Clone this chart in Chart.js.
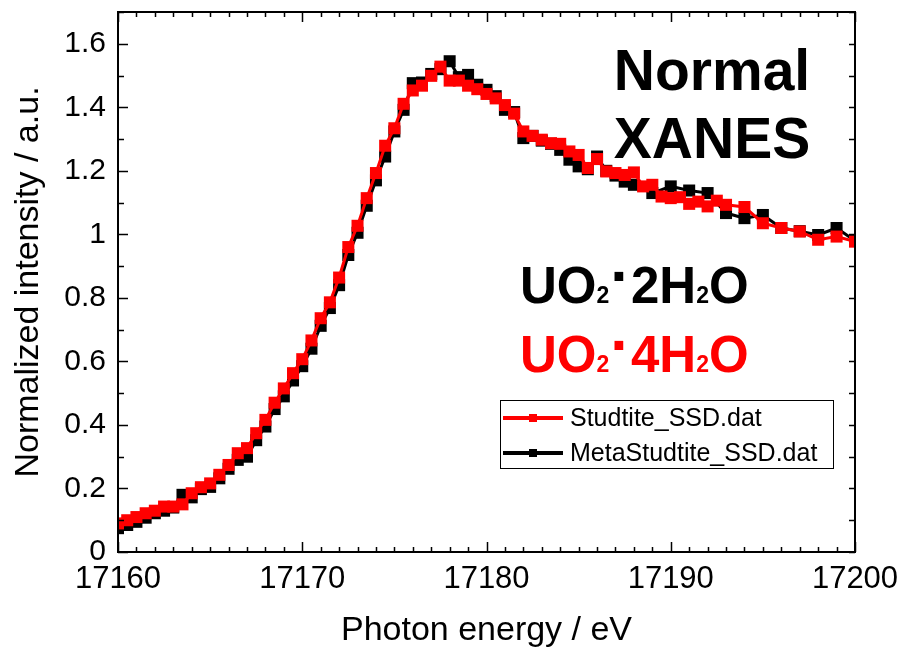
<!DOCTYPE html>
<html>
<head>
<meta charset="utf-8">
<script src="https://cdn.jsdelivr.net/npm/chart.js@4.4.0/dist/chart.umd.min.js"></script>
<style>
  body { margin: 0; background: #fff; }
  canvas { display: block; }
</style>
</head>
<body>
<canvas id="xanes" width="903" height="650"></canvas>
<script>
// Studtite (UO2·4H2O), red curve
const energyStud = [17160, 17160.5, 17161, 17161.5, 17162, 17162.5, 17163, 17163.5, 17164, 17164.5,
    17165, 17165.5, 17166, 17166.5, 17167, 17167.5, 17168, 17168.5, 17169, 17169.5,
    17170, 17170.5, 17171, 17171.5, 17172, 17172.5, 17173, 17173.5, 17174, 17174.5,
    17175, 17175.5, 17176, 17176.5, 17177, 17177.5, 17178, 17178.5, 17179, 17179.5,
    17180, 17180.5, 17181, 17181.5, 17182, 17182.5, 17183, 17183.5, 17184, 17184.5,
    17185, 17185.5, 17186, 17186.5, 17187, 17187.5, 17188, 17188.5, 17189, 17189.5,
    17190, 17190.5, 17191, 17191.5, 17192, 17192.5, 17193,
    17194, 17195, 17196, 17197, 17198, 17199, 17200];
const studtite = [0.090, 0.100, 0.110, 0.122, 0.130, 0.143, 0.143, 0.150, 0.185, 0.204,
    0.216, 0.243, 0.274, 0.311, 0.327, 0.374, 0.416, 0.470, 0.515, 0.563,
    0.607, 0.666, 0.736, 0.786, 0.864, 0.960, 1.027, 1.114, 1.193, 1.279,
    1.334, 1.411, 1.453, 1.468, 1.499, 1.528, 1.484, 1.484, 1.468, 1.457,
    1.442, 1.428, 1.407, 1.380, 1.324, 1.310, 1.298, 1.287, 1.285, 1.261,
    1.250, 1.209, 1.237, 1.198, 1.193, 1.187, 1.195, 1.151, 1.156, 1.119,
    1.114, 1.117, 1.096, 1.103, 1.088, 1.106, 1.093,
    1.086, 1.035, 1.020, 1.009, 0.983, 0.993, 0.977];

// MetaStudtite (UO2·2H2O), black curve
const energyMeta = [17160, 17160.5, 17161, 17161.5, 17162, 17162.5, 17163, 17163.5, 17164, 17164.5,
    17165, 17165.5, 17166, 17166.5, 17167, 17167.5, 17168, 17168.5, 17169, 17169.5,
    17170, 17170.5, 17171, 17171.5, 17172, 17172.5, 17173, 17173.5, 17174, 17174.5,
    17175, 17175.5, 17176, 17176.5, 17177, 17177.5, 17178, 17178.5, 17179, 17179.5,
    17180, 17180.5, 17181, 17181.5, 17182, 17182.5, 17183, 17183.5, 17184, 17184.5,
    17185, 17185.5, 17186, 17186.5, 17187, 17187.5, 17188,
    17189, 17190, 17191, 17192, 17193, 17194, 17195, 17196, 17197, 17198, 17199, 17200];
const metaStudtite = [0.075, 0.085, 0.095, 0.108, 0.122, 0.130, 0.140, 0.180, 0.172, 0.198,
    0.205, 0.232, 0.262, 0.290, 0.300, 0.352, 0.395, 0.450, 0.490, 0.540,
    0.585, 0.640, 0.712, 0.768, 0.840, 0.935, 1.005, 1.090, 1.170, 1.245,
    1.324, 1.392, 1.476, 1.478, 1.505, 1.520, 1.545, 1.495, 1.502, 1.471,
    1.455, 1.435, 1.392, 1.385, 1.303, 1.310, 1.295, 1.285, 1.266, 1.235,
    1.214, 1.205, 1.245, 1.200, 1.185, 1.166, 1.156,
    1.130, 1.151, 1.138, 1.130, 1.067, 1.051, 1.061, 1.020, 1.010, 0.998, 1.020, 0.980];

const xRange = [17160, 17200];
const yRange = [0, 1.7];
const seriesNames = ['Studtite_SSD.dat', 'MetaStudtite_SSD.dat'];

const FONT = "'Liberation Sans', Arial, sans-serif";

function pairs(xs, ys) {
    return xs.map((e, i) => ({ x: e, y: ys[i] }));
}

// frame + inward ticks on all four sides (Origin style)
const frameTicks = {
    id: 'frameTicks',
    afterDatasetsDraw(chart) {
        const { ctx, chartArea: a, scales: { x, y } } = chart;
        ctx.save();
        ctx.strokeStyle = '#000';
        ctx.lineWidth = 1.5;
        ctx.beginPath();
        for (let e = xRange[0]; e <= xRange[1]; e++) {
            const px = Math.round(x.getPixelForValue(e)) + 0.5;
            const len = e % 10 === 0 ? 10 : 5;
            ctx.moveTo(px, a.bottom); ctx.lineTo(px, a.bottom - len);
            ctx.moveTo(px, a.top); ctx.lineTo(px, a.top + len);
        }
        for (let k = 0; k <= 17; k++) {
            const py = Math.round(y.getPixelForValue(k / 10)) + 0.5;
            const len = k % 2 === 0 ? 10 : 6;
            ctx.moveTo(a.left, py); ctx.lineTo(a.left + len, py);
            ctx.moveTo(a.right, py); ctx.lineTo(a.right - 6, py);
        }
        ctx.stroke();
        ctx.lineWidth = 2;
        ctx.strokeRect(a.left, a.top, a.right - a.left, a.bottom - a.top);
        ctx.restore();
    }
};

// formula with subscripts, drawn piece by piece
function drawFormula(ctx, x, y, parts, color) {
    ctx.fillStyle = color;
    ctx.textBaseline = 'alphabetic';
    ctx.textAlign = 'left';
    parts.forEach(p => {
        ctx.font = 'bold ' + p.size + 'px ' + FONT;
        ctx.fillText(p.t, x, y + (p.dy || 0));
        x += ctx.measureText(p.t).width + (p.gap || 0);
    });
}

const annotations = {
    id: 'annotations',
    afterDraw(chart) {
        const ctx = chart.ctx;
        ctx.save();
        ctx.fillStyle = '#000';
        ctx.font = 'bold 57px ' + FONT;
        ctx.textAlign = 'center';
        ctx.textBaseline = 'alphabetic';
        ctx.fillText('Normal', 712, 90);
        ctx.fillText('XANES', 712, 158);

        drawFormula(ctx, 520, 303, [
            { t: 'UO', size: 51 }, { t: '2', size: 23, gap: 1 }, { t: '·', size: 62, dy: -6 },
            { t: '2H', size: 51 }, { t: '2', size: 23 }, { t: 'O', size: 51 }
        ], '#000');
        drawFormula(ctx, 520, 372, [
            { t: 'UO', size: 51 }, { t: '2', size: 23, gap: 1 }, { t: '·', size: 62, dy: -6 },
            { t: '4H', size: 51 }, { t: '2', size: 23 }, { t: 'O', size: 51 }
        ], '#ff0000');

        // legend box
        ctx.lineWidth = 1;
        ctx.strokeStyle = '#000';
        ctx.strokeRect(500.5, 400.5, 333, 68);
        const rows = [{ name: seriesNames[0], color: '#ff0000', y: 418 },
                      { name: seriesNames[1], color: '#000', y: 453 }];
        rows.forEach(r => {
            ctx.strokeStyle = r.color;
            ctx.fillStyle = r.color;
            ctx.lineWidth = 4;
            ctx.beginPath();
            ctx.moveTo(503, r.y); ctx.lineTo(563, r.y);
            ctx.stroke();
            ctx.fillRect(529, r.y - 4, 8, 8);
            ctx.fillStyle = '#000';
            ctx.font = '25px ' + FONT;
            ctx.textAlign = 'left';
            ctx.textBaseline = 'middle';
            ctx.fillText(r.name, 570, r.y + 1);
        });
        ctx.restore();
    }
};

const config = {
    type: 'line',
    data: {
        datasets: [
            {
                label: seriesNames[0],
                data: pairs(energyStud, studtite),
                borderColor: '#ff0000',
                backgroundColor: '#ff0000',
                borderWidth: 3,
                pointStyle: 'rect',
                pointRadius: 8.5,
                pointBorderWidth: 0,
                tension: 0,
            },
            {
                label: seriesNames[1],
                data: pairs(energyMeta, metaStudtite),
                borderColor: '#000',
                backgroundColor: '#000',
                borderWidth: 3,
                pointStyle: 'rect',
                pointRadius: 8.5,
                pointBorderWidth: 0,
                tension: 0,
            }
        ]
    },
    options: {
        responsive: false,
        animation: false,
        events: [],
        layout: { padding: { top: 12, right: 48, left: 0, bottom: 0 } },
        plugins: {
            legend: { display: false },
            tooltip: { enabled: false },
        },
        scales: {
            x: {
                type: 'linear',
                min: xRange[0],
                max: xRange[1],
                grid: { display: false, drawTicks: false },
                border: { display: false },
                ticks: {
                    stepSize: 10,
                    autoSkip: false,
                    maxRotation: 0,
                    padding: 9,
                    color: '#000',
                    font: { family: FONT, size: 31 },
                    callback: v => String(v),
                },
                title: {
                    display: true,
                    text: 'Photon energy / eV',
                    color: '#000',
                    font: { family: FONT, size: 34, lineHeight: 1 },
                    padding: { top: 0, bottom: 2 },
                },
                afterFit: s => {
                    s.height = 98;
                    s.paddingLeft = 0;
                    s.paddingRight = 0;
                },
            },
            y: {
                min: yRange[0],
                max: yRange[1],
                grid: { display: false, drawTicks: false },
                border: { display: false },
                ticks: {
                    stepSize: 0.2,
                    includeBounds: false,
                    padding: 12,
                    color: '#000',
                    font: { family: FONT, size: 30 },
                    callback: v => String(+v.toFixed(1)),
                },
                title: {
                    display: true,
                    text: 'Normalized intensity / a.u.',
                    color: '#000',
                    font: { family: FONT, size: 34, lineHeight: 1 },
                    padding: { top: 12, bottom: 0 },
                },
                afterFit: s => {
                    s.width = 118;
                    s.paddingTop = 0;
                    s.paddingBottom = 0;
                },
            }
        }
    },
    plugins: [frameTicks, annotations]
};

var ctx = document.getElementById('xanes').getContext('2d');
var xanesChart = new Chart(ctx, config);
</script>
</body>
</html>
